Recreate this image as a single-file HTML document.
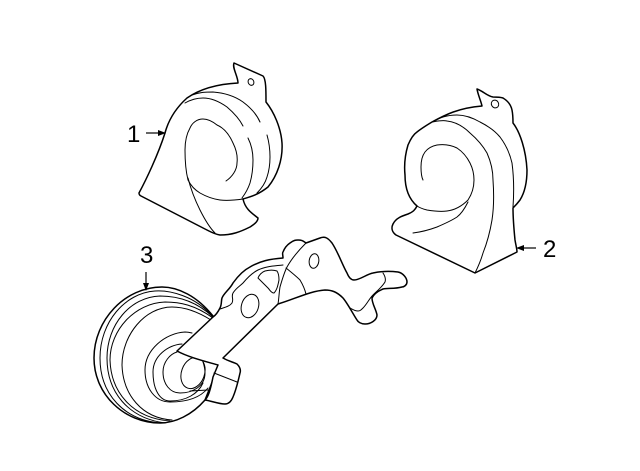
<!DOCTYPE html>
<html><head><meta charset="utf-8"><style>
html,body{margin:0;padding:0;background:#fff}
svg{display:block}
text{font-family:"Liberation Sans",sans-serif;font-size:24px;fill:#000}
.o{fill:#fff;stroke:#000;stroke-width:1.5;stroke-linejoin:round}
.t{fill:none;stroke:#000;stroke-width:1;stroke-linecap:round}
.a{fill:none;stroke:#000;stroke-width:1.2}
</style></head><body>
<svg width="640" height="471" viewBox="0 0 640 471" xmlns="http://www.w3.org/2000/svg">
<!-- Horn 1 -->
<path class="o" d="M139 193C146 180 158 155 165 133C169 118 177 107 187 98C200 89 218 84 238 83C238 76 232 68 234 63L263 76C266 79 266 90 266 102C274 112 281 128 282 143C283 160 277 176 268 187C258 195 250 197 243 199C245 208 250 212 258 218C258 222 253 225 250 227C240 232 232 235 220 235C214 234 211 232 205 229L141 196C139 195 139 194 139 193Z"/>
<path class="t" d="M192 95C200 92 206 92 213 92C226 93 236 97 243 102C251 108 257 115 260 122"/>
<path class="t" d="M185 103C192 99 197 98 203 98C212 98 220 102 227 107C234 113 240 120 243 126"/>
<path class="t" d="M248 138C252 146 253 153 253 160C253 168 252 176 250 183C248 189 245 194 242 198"/>
<path class="t" d="M267 135C269 142 270 150 270 157C270 164 269 171 267 177C265 184 261 189 257 193"/>
<path class="t" d="M226 181C232 177 237 170 237 163C238 155 236 149 233 143C229 134 224 128 217 125C212 121 207 119 203 119C197 119 192 123 190 128C186 135 185 142 185 150C185 160 186 172 188 180C191 186 195 190 200 193C207 197 213 199 220 200C228 201 236 200 243 199"/>
<path class="t" d="M188 178C191 190 195 200 200 210C204 218 209 227 215 233"/>
<ellipse cx="251" cy="82" rx="2.8" ry="3.4" fill="#fff" stroke="#000" stroke-width="1" transform="rotate(-25 251 82)"/>
<!-- Horn 2 -->
<path class="o" d="M417 206C410 200 405 190 405 175C404 165 405 155 408 145C411 138 414 134 417 132C422 128 427 125 432 122C445 115 458 108 482 106C481 101 478 95 477 89C483 91 487 96 493 97C497 97 500 97 503 98C508 101 511 105 512 110C513 115 513 119 513 123C520 132 526 150 527 170C527 183 525 192 520 200C517 204 515 206 513 208C513 220 514 230 515 240C516 246 517 249 517 252L475 273L396 235C392 232 391 228 393 224C396 218 402 216 408 214C413 212 415 210 417 206Z"/>
<path class="t" d="M432 122C440 117 449 115 457 115C465 115 473 118 480 122C488 126 495 131 500 137C506 145 510 154 512 163C514 178 514 193 513 207"/>
<path class="t" d="M432 122C438 121 442 120 447 121C456 122 464 127 470 133C477 139 483 146 487 153C491 162 493 171 493 180C494 194 494 207 492 220C490 232 487 243 483 253C481 260 478 267 475 273"/>
<path class="t" d="M423 180C421 176 421 171 421 167C421 161 422 156 425 152C428 148 432 146 437 145C444 144 451 145 457 148C463 152 467 157 470 163C473 169 474 174 474 180C474 187 472 194 468 200C462 206 455 210 447 211C440 212 433 211 427 210C423 209 420 208 417 206"/>
<path class="t" d="M413 233C421 232 429 230 437 227C444 224 451 221 457 217C461 214 465 208 468 202"/>
<ellipse cx="495" cy="104" rx="3.6" ry="4" fill="#fff" stroke="#000" stroke-width="1" transform="rotate(-30 495 104)"/>
<!-- Horn 3 -->
<path class="o" d="M213 316C197 296 178 287 162 287C125 287 94 320 94 358C94 395 125 423 160 423C175 423 192 415 205 400L225 350Z" stroke-linejoin="round"/>
<path class="t" d="M212 316C195 296 170 290 155 291C125 293 100 322 100 358C100 395 125 420 160 423"/>
<path class="t" d="M213 317C195 300 175 296 160 296C130 297 107 325 107 358C107 392 128 418 165 423"/>
<path class="t" d="M213 318C195 305 180 302 165 302C135 303 110 330 110 360C111 392 132 418 170 421"/>
<path class="t" d="M211 320C195 310 182 307 172 307C145 307 122 335 122 365C123 395 142 418 172 420"/>
<path class="t" d="M192 333C188 332 186 332 185 332C165 333 145 350 145 370C145 388 155 402 170 402C186 402 200 398 208 388"/>
<path class="t" d="M182 344C168 345 153 356 153 372C153 390 160 401 170 401C186 401 198 394 203 383"/>
<path class="t" d="M177 352C170 354 163 362 163 372C163 384 170 393 180 393C193 393 205 386 205 373C205 369 204 365 203 362"/>
<ellipse class="t" cx="193" cy="373" rx="11.5" ry="16" transform="rotate(20 193 373)"/>
<path class="t" d="M190 391L208 390"/>
<!-- Bracket -->
<path class="o" d="M177 351L213 317C216 315 218 312 220 308C222 304 221 301 222 298C224 293 230 289 233 283C238 276 244 270 250 267C260 261 270 259 283 258C283 255 282 253 283 252C285 247 287 245 290 243C294 240 296 240 298 240C302 240 303 241 306 243L320 238C325 236 328 238 332 243C338 252 342 264 347 273C349 278 351 280 354 280C360 280 367 274 373 273C382 271 390 271 398 272C403 273 407 278 407 282C407 285 404 287 402 287C395 289 388 288 383 289C378 291 374 294 372 298C372 304 376 309 377 315C377 320 371 324 365 324C361 324 358 322 357 320C353 314 348 304 343 298C337 292 332 290 325 290C310 291 295 299 278 304L223 358C228 361 233 362 237 364C240 367 241 370 240 373C238 382 236 390 233 397C231 402 228 404 225 404C218 404 212 401 205 400C208 397 210 392 213 377L218 365C204 361 188 357 177 351Z"/>
<path class="t" d="M220 309C226 307 230 306 232 303C234 299 231 297 233 293C236 288 240 286 243 283C248 277 252 273 258 270C266 266 275 266 283 265"/>
<path class="t" d="M214 373L237 382"/>
<path class="t" d="M278 304C279 298 279 293 280 287C282 280 284 273 287 267C292 258 299 250 306 243"/>
<path class="t" d="M286 268C291 272 296 276 300 280C303 285 305 290 306 294"/>
<path class="t" d="M383 273C385 276 386 279 385 282C382 287 377 291 373 295C369 299 367 304 363 308C361 310 360 311 358 311C355 311 352 309 350 308"/>
<path class="t" d="M258 278C259 275 262 272 265 271C269 270 274 270 277 271C279 274 279 277 279 280C278 285 277 290 274 293C271 293 270 290 268 288C265 285 261 281 258 278Z"/>
<ellipse class="t" cx="250" cy="306" rx="8.5" ry="12" transform="rotate(18 250 306)"/>
<ellipse class="t" cx="314" cy="261" rx="4.8" ry="7.3" transform="rotate(8 314 261)"/>
<!-- Labels -->
<text x="127" y="142">1</text>
<path class="a" d="M146 133H160"/><path d="M166 133L158 130V136Z"/>
<text x="543" y="257">2</text>
<path class="a" d="M536 248H522"/><path d="M516 248L524 245V251Z"/>
<text x="140" y="263">3</text>
<path class="a" d="M146 272V286"/><path d="M146 291L143 283H149Z"/>
</svg>
</body></html>
